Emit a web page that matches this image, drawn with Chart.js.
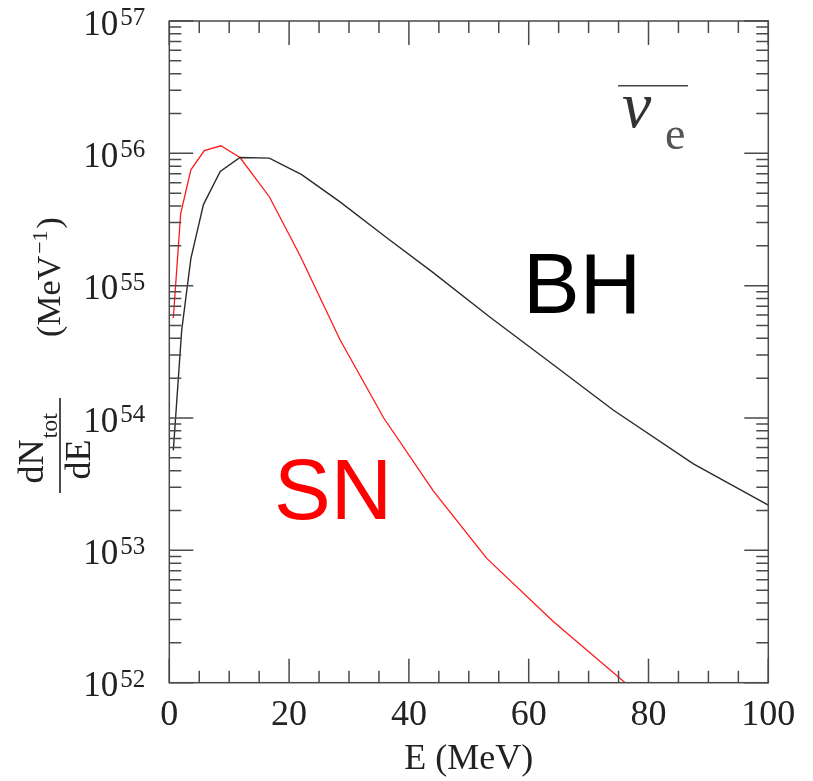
<!DOCTYPE html>
<html>
<head>
<meta charset="utf-8">
<script src="https://cdn.jsdelivr.net/npm/chart.js@4.4.1/dist/chart.umd.min.js"></script>
<style>
html,body{margin:0;padding:0;background:#fff;}
#wrap{width:813px;height:781px;}
</style>
</head>
<body>
<div id="wrap"><canvas id="c" width="813" height="781"></canvas></div>
<script>
// Electron antineutrino spectra: energy E (MeV) and dN_tot/dE (MeV^-1)
const snEnergy = [0.67, 1.9, 3.6, 5.85, 8.6, 11.8, 16.7, 21.8, 28.5, 35.8, 44.1, 53.0, 64.1, 76.1];
const snFlux   = [5.7e54, 3.5e55, 7.5e55, 1.05e56, 1.14e56, 9.3e55, 4.7e55, 1.7e55, 3.9e54, 1.0e54, 2.8e53, 8.7e52, 2.9e52, 1.0e52];
const bhEnergy = [0.67, 2.07, 3.6, 5.7, 8.5, 11.8, 16.7, 22.1, 28.5, 36.3, 44.0, 53.5, 64.0, 74.1, 87.5, 100];
const bhFlux   = [5.7e53, 4.6e54, 1.6e55, 4.1e55, 7.3e55, 9.3e55, 9.2e55, 6.9e55, 4.3e55, 2.3e55, 1.26e55, 5.8e54, 2.55e54, 1.15e54, 4.5e53, 2.2e53];
const xTickValues = [0, 20, 40, 60, 80, 100];
const decades = [52, 53, 54, 55, 56, 57];

const toPoints = (xs, ys) => xs.map((e, i) => ({x: e, y: ys[i]}));

const SERIF = '"Liberation Serif", "DejaVu Serif", serif';
const SANS = '"Liberation Sans", Arial, sans-serif';

// Boxed frame with inward ticks, exponent labels, y title and annotations
const framePlugin = {
  id: 'frame',
  afterDatasetsDraw(chart) {
    const {ctx, chartArea: a, scales: {x, y}} = chart;
    ctx.save();
    ctx.strokeStyle = '#4a4a4a';
    ctx.lineWidth = 1.5;
    ctx.strokeRect(a.left, a.top, a.right - a.left, a.bottom - a.top);
    ctx.beginPath();
    for (let v = x.min; v <= x.max; v += 5) {
      const px = x.getPixelForValue(v);
      const len = v % 20 === 0 ? 24 : 12;
      ctx.moveTo(px, a.bottom); ctx.lineTo(px, a.bottom - len);
      ctx.moveTo(px, a.top); ctx.lineTo(px, a.top + len);
    }
    decades.forEach(d => {
      for (let m = 1; m <= 9; m++) {
        if (d === decades[decades.length - 1] && m > 1) break;
        const py = y.getPixelForValue(m * Math.pow(10, d));
        const len = m === 1 ? 24 : 12;
        ctx.moveTo(a.left, py); ctx.lineTo(a.left + len, py);
        ctx.moveTo(a.right, py); ctx.lineTo(a.right - len, py);
      }
    });
    ctx.stroke();

    // y tick labels 10^d
    ctx.fillStyle = '#222';
    ctx.textBaseline = 'alphabetic';
    decades.forEach(d => {
      const py = y.getPixelForValue(Math.pow(10, d));
      ctx.font = '35px ' + SERIF;
      ctx.textAlign = 'right';
      ctx.fillText('10', a.left - 51, py + 13.5);
      ctx.font = '25px ' + SERIF;
      ctx.textAlign = 'left';
      ctx.fillText(String(d), a.left - 49, py + 4);
    });

    // y axis title: dN_tot/dE (MeV^-1), rotated
    ctx.textAlign = 'left';
    ctx.save();
    ctx.translate(60, 445.5);
    ctx.rotate(-Math.PI / 2);
    ctx.font = '36px ' + SERIF;
    ctx.fillText('dN', -38, -17);
    ctx.font = '24px ' + SERIF;
    ctx.fillText('tot', 7, -3);
    ctx.fillRect(-47.5, -0.8, 95, 1.6);
    ctx.font = '36px ' + SERIF;
    ctx.textAlign = 'center';
    ctx.fillText('dE', -14, 30);
    ctx.restore();

    ctx.save();
    ctx.translate(60, 275);
    ctx.rotate(-Math.PI / 2);
    ctx.textAlign = 'left';
    ctx.font = '34px ' + SERIF;
    let tx = -62;
    ctx.fillText('(MeV', tx, 0);
    tx += ctx.measureText('(MeV').width + 2;
    ctx.font = '22px ' + SERIF;
    ctx.fillText('\u22121', tx, -13);
    tx += ctx.measureText('\u22121').width + 2;
    ctx.font = '34px ' + SERIF;
    ctx.fillText(')', tx, 0);
    ctx.restore();

    // antineutrino symbol
    ctx.fillStyle = '#444';
    ctx.fillRect(618, 85, 70, 1.5);
    ctx.fillStyle = '#333';
    ctx.font = 'italic 66px ' + SERIF;
    ctx.textAlign = 'left';
    ctx.fillText('\u03BD', 622, 126.5);
    ctx.fillStyle = '#555';
    ctx.font = '46px ' + SERIF;
    ctx.fillText('e', 665, 149);

    // curve names
    ctx.font = '85px ' + SANS;
    ctx.fillStyle = '#000';
    ctx.fillText('BH', 523, 313);
    ctx.fillStyle = '#ff0000';
    ctx.fillText('SN', 274, 519);
    ctx.restore();
  }
};

new Chart(document.getElementById('c'), {
  type: 'line',
  data: {
    datasets: [
      {
        label: 'BH',
        data: toPoints(bhEnergy, bhFlux),
        borderColor: '#2b2b2b',
        borderWidth: 1.4,
        pointRadius: 0,
        tension: 0,
        fill: false
      },
      {
        label: 'SN',
        data: toPoints(snEnergy, snFlux),
        borderColor: '#ff1a1a',
        borderWidth: 1.3,
        pointRadius: 0,
        tension: 0,
        fill: false
      }
    ]
  },
  options: {
    responsive: false,
    devicePixelRatio: 1,
    animation: false,
    events: [],
    layout: {padding: {top: 21, right: 44.7, bottom: 0, left: 0}},
    plugins: {legend: {display: false}, tooltip: {enabled: false}},
    scales: {
      x: {
        type: 'linear',
        min: 0,
        max: 100,
        afterBuildTicks: s => { s.ticks = xTickValues.map(v => ({value: v})); },
        afterFit: s => { s.height = 98.3; },
        grid: {display: false, drawTicks: false},
        border: {display: false},
        ticks: {
          autoSkip: false,
          maxRotation: 0,
          padding: 11,
          color: '#222',
          font: {family: SERIF, size: 36}
        },
        title: {
          display: true,
          text: 'E (MeV)',
          color: '#222',
          padding: {top: 0, bottom: 0},
          font: {family: SERIF, size: 36}
        }
      },
      y: {
        type: 'logarithmic',
        min: 1e52,
        max: 1e57,
        afterFit: s => { s.width = 169.3; },
        grid: {display: false, drawTicks: false},
        border: {display: false},
        ticks: {display: false}
      }
    }
  },
  plugins: [framePlugin]
});
</script>
</body>
</html>
